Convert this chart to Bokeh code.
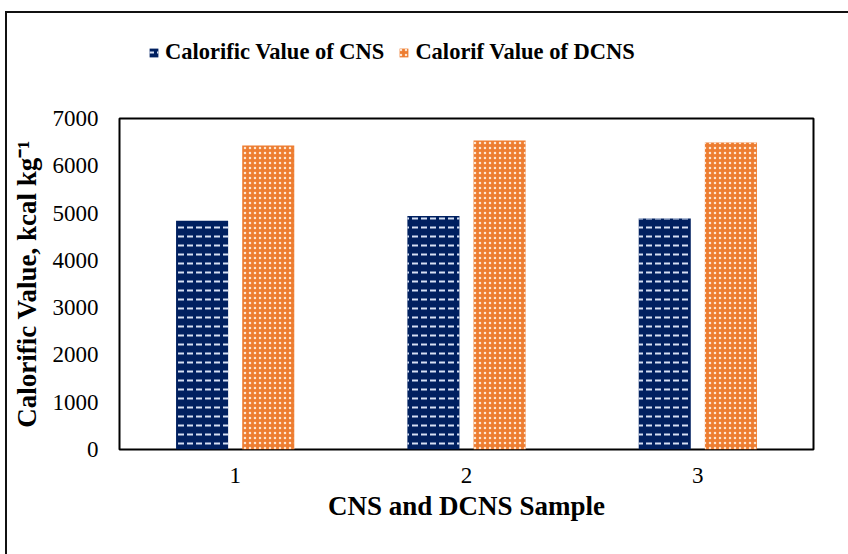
from bokeh.plotting import figure
from bokeh.layouts import column
from bokeh.models import ColumnDataSource, FactorRange, Range1d, Legend, LegendItem
from bokeh.transform import dodge
from bokeh.embed import file_html
from bokeh.resources import INLINE

# Calorific value per sample, kcal/kg
samples = ["1", "2", "3"]
cns_values = [4840, 4940, 4885]
dcns_values = [6430, 6535, 6495]
y_ticks = [0, 1000, 2000, 3000, 4000, 5000, 6000, 7000]
series_names = ["Calorific Value of CNS", "Calorif Value of DCNS"]

source = ColumnDataSource(dict(sample=samples, cns=cns_values, dcns=dcns_values))

SERIF = "Liberation Serif"
CNS_STYLE = dict(fill_color="#002060", line_color=None, hatch_pattern="horizontal_dash",
                 hatch_color="#d6e0f4", hatch_scale=9, hatch_weight=2)
DCNS_STYLE = dict(fill_color="#ED7D31", line_color=None, hatch_pattern="dot",
                  hatch_color="#fce6d2", hatch_scale=5, hatch_weight=3)

# ---- main chart ----
p = figure(
    width=841, height=449,
    x_range=FactorRange(*samples),
    y_range=Range1d(0, 7000),
    output_backend="svg",
    toolbar_location=None,
    min_border_left=112, min_border_right=35,
    min_border_top=13, min_border_bottom=105,
)

bar_w = 0.225
p.vbar(x=dodge("sample", -0.143, range=p.x_range), top="cns", width=bar_w,
       source=source, **CNS_STYLE)
p.vbar(x=dodge("sample", 0.143, range=p.x_range), top="dcns", width=bar_w,
       source=source, **DCNS_STYLE)

p.outline_line_color = "black"
p.outline_line_width = 2
p.xgrid.grid_line_color = None
p.ygrid.grid_line_color = None

for ax in (p.xaxis[0], p.yaxis[0]):
    ax.axis_line_color = None
    ax.major_tick_line_color = None
    ax.minor_tick_line_color = None
    ax.major_tick_out = 0
    ax.major_tick_in = 0
    ax.major_label_text_font = SERIF
    ax.major_label_text_font_size = "23px"
    ax.major_label_text_color = "black"
    ax.axis_label_text_font = SERIF
    ax.axis_label_text_font_style = "bold"
    ax.axis_label_text_font_size = "27px"
    ax.axis_label_text_color = "black"

p.yaxis.ticker = y_ticks
p.yaxis.major_label_standoff = 21
p.xaxis.major_label_standoff = 18
p.xaxis.axis_label = "CNS and DCNS Sample"
p.xaxis.axis_label_standoff = 5
p.yaxis.axis_label = "Calorific Value, kcal kg\u207b\u00b9"
p.yaxis.axis_label_standoff = 8

# ---- legend strip above the chart ----
# its frame lines up with the chart frame inside the column
lg = figure(
    width=841, height=92,
    x_range=FactorRange(*samples), y_range=Range1d(0, 1),
    output_backend="svg", toolbar_location=None,
    min_border=0,
)
lg.axis.visible = False
lg.grid.visible = False
lg.outline_line_color = None
# hidden key renderers: only their legend swatches are drawn
cns_key = lg.vbar(x="sample", top="cns", width=0.1, source=source, visible=False, **CNS_STYLE)
dcns_key = lg.vbar(x="sample", top="dcns", width=0.1, source=source, visible=False, **DCNS_STYLE)

legend = Legend(
    items=[
        LegendItem(label=series_names[0], renderers=[cns_key]),
        LegendItem(label=series_names[1], renderers=[dcns_key]),
    ],
    orientation="horizontal",
    location=(29, 40),
    label_text_font=SERIF,
    label_text_font_style="bold",
    label_text_font_size="22.5px",
    label_text_color="black",
    label_height=26,
    glyph_width=11, glyph_height=11,
    label_standoff=6, spacing=14,
    padding=0, margin=0,
    border_line_color=None,
    background_fill_alpha=0,
    inactive_fill_alpha=0,
)
lg.add_layout(legend, "center")

layout = column(lg, p, spacing=0)
layout.margin = (11, 0, 0, 5)
layout.styles = {"border-top": "2px solid #111", "border-left": "2px solid #111"}

open("out.html", "w").write(file_html(layout, INLINE))
